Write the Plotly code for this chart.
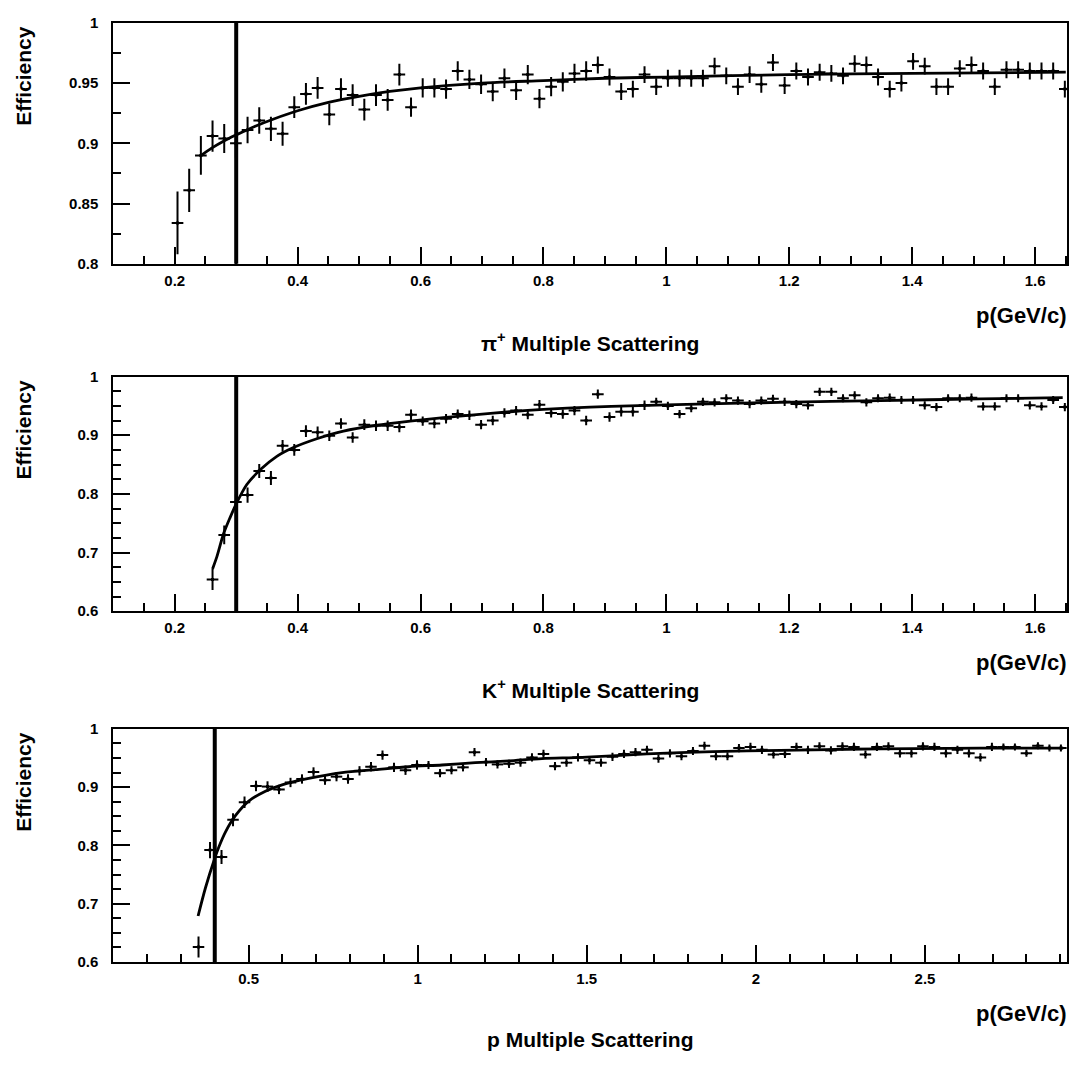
import plotly.graph_objects as go

# ---------------- data ----------------
# pi+ panel: bin centres start at 0.2045 GeV/c, bin width 0.019 GeV/c
pi_first_bin = 0.2045
pi_bin_width = 0.019
eff_pi = [0.834, 0.861, 0.890, 0.906, 0.904, 0.900, 0.911, 0.919, 0.912, 0.908,
          0.930, 0.941, 0.946, 0.924, 0.945, 0.940, 0.928, 0.940, 0.936, 0.957,
          0.930, 0.946, 0.946, 0.945, 0.960, 0.953, 0.949, 0.943, 0.954, 0.944,
          0.957, 0.937, 0.947, 0.951, 0.958, 0.960, 0.965, 0.955, 0.943, 0.945,
          0.957, 0.947, 0.954, 0.954, 0.954, 0.954, 0.964, 0.956, 0.947, 0.957,
          0.949, 0.967, 0.948, 0.960, 0.955, 0.959, 0.958, 0.956, 0.966, 0.965,
          0.955, 0.945, 0.950, 0.968, 0.964, 0.947, 0.947, 0.962, 0.965, 0.960,
          0.947, 0.961, 0.961, 0.960, 0.960, 0.960, 0.945]
err_pi = [0.026, 0.018, 0.016, 0.013, 0.012, 0.012, 0.011, 0.011, 0.010, 0.010,
          0.009, 0.009, 0.009, 0.009, 0.009, 0.009, 0.009, 0.009, 0.009, 0.009,
          0.008, 0.008, 0.008, 0.008, 0.008, 0.008, 0.008, 0.008, 0.008, 0.008,
          0.008, 0.008, 0.008, 0.008, 0.008, 0.008, 0.007, 0.007, 0.007, 0.007,
          0.007, 0.007, 0.007, 0.007, 0.007, 0.007, 0.007, 0.007, 0.007, 0.007,
          0.007, 0.007, 0.007, 0.007, 0.007, 0.007, 0.007, 0.007, 0.007, 0.007,
          0.007, 0.007, 0.007, 0.007, 0.007, 0.007, 0.007, 0.007, 0.007, 0.007,
          0.007, 0.007, 0.007, 0.007, 0.007, 0.007, 0.007]
fit_pi_p = [0.243, 0.26, 0.28, 0.30, 0.33, 0.36, 0.40, 0.45, 0.50, 0.55, 0.60,
            0.70, 0.80, 0.90, 1.0, 1.2, 1.4, 1.65]
fit_pi_eff = [0.890, 0.896, 0.902, 0.907, 0.914, 0.920, 0.927, 0.934, 0.939, 0.943,
              0.946, 0.950, 0.952, 0.954, 0.955, 0.957, 0.958, 0.959]

# K+ panel: same binning, first filled bin at 0.2615 GeV/c
k_first_bin = 0.2615
k_bin_width = 0.019
eff_k = [0.654, 0.730, 0.786, 0.798, 0.839, 0.827, 0.882, 0.875, 0.907, 0.905,
         0.899, 0.920, 0.896, 0.918, 0.916, 0.916, 0.914, 0.935, 0.924, 0.920,
         0.928, 0.936, 0.934, 0.918, 0.925, 0.938, 0.942, 0.935, 0.952, 0.938,
         0.936, 0.942, 0.925, 0.970, 0.931, 0.940, 0.940, 0.951, 0.957, 0.950,
         0.936, 0.946, 0.957, 0.956, 0.963, 0.959, 0.953, 0.959, 0.962, 0.957,
         0.953, 0.951, 0.974, 0.974, 0.963, 0.968, 0.956, 0.963, 0.964, 0.960,
         0.960, 0.951, 0.948, 0.963, 0.963, 0.964, 0.949, 0.949, 0.963, 0.963,
         0.951, 0.949, 0.960, 0.948]
err_k = [0.018, 0.016, 0.014, 0.013, 0.012, 0.012, 0.010, 0.010, 0.010, 0.010,
         0.009, 0.009, 0.009, 0.009, 0.009, 0.009, 0.009, 0.009, 0.008, 0.008,
         0.008, 0.008, 0.008, 0.008, 0.008, 0.008, 0.008, 0.008, 0.008, 0.008,
         0.008, 0.008, 0.008, 0.008, 0.008, 0.008, 0.008, 0.008, 0.007, 0.007,
         0.007, 0.007, 0.007, 0.007, 0.007, 0.007, 0.007, 0.007, 0.007, 0.007,
         0.007, 0.007, 0.007, 0.007, 0.007, 0.007, 0.007, 0.007, 0.007, 0.007,
         0.007, 0.007, 0.007, 0.007, 0.007, 0.007, 0.007, 0.007, 0.007, 0.007,
         0.007, 0.007, 0.007, 0.007]
fit_k_p = [0.2615, 0.2686, 0.2794, 0.2902, 0.30, 0.3173, 0.339, 0.3661, 0.3932,
           0.4312, 0.4745, 0.5287, 0.5829, 0.6371, 0.6913, 0.7455, 0.80, 0.876,
           0.94, 1.05, 1.185, 1.348, 1.51, 1.645]
fit_k_eff = [0.672, 0.693, 0.732, 0.760, 0.783, 0.816, 0.841, 0.864, 0.879, 0.894,
             0.907, 0.917, 0.924, 0.930, 0.935, 0.940, 0.944, 0.948, 0.950, 0.953,
             0.956, 0.959, 0.962, 0.964]

# p panel: bin centres start at 0.352 GeV/c, bin width 0.034 GeV/c
p_first_bin = 0.352
p_bin_width = 0.034
eff_p = [0.626, 0.792, 0.780, 0.844, 0.874, 0.902, 0.901, 0.896, 0.908, 0.914,
         0.926, 0.912, 0.918, 0.914, 0.928, 0.935, 0.955, 0.934, 0.929, 0.938,
         0.938, 0.924, 0.929, 0.934, 0.960, 0.943, 0.939, 0.940, 0.942, 0.951,
         0.957, 0.936, 0.942, 0.951, 0.946, 0.942, 0.952, 0.957, 0.960, 0.964,
         0.949, 0.958, 0.953, 0.962, 0.971, 0.953, 0.953, 0.967, 0.969, 0.964,
         0.956, 0.957, 0.969, 0.964, 0.970, 0.963, 0.970, 0.969, 0.956, 0.969,
         0.970, 0.958, 0.958, 0.970, 0.969, 0.958, 0.964, 0.958, 0.951, 0.969,
         0.969, 0.969, 0.958, 0.971, 0.967, 0.967]
err_p = [0.018, 0.014, 0.012, 0.011, 0.010, 0.009, 0.009, 0.008, 0.008, 0.008,
         0.008, 0.008, 0.008, 0.008, 0.008, 0.008, 0.008, 0.008, 0.008, 0.008,
         0.007, 0.007, 0.007, 0.007, 0.007, 0.007, 0.007, 0.007, 0.007, 0.007,
         0.007, 0.007, 0.007, 0.007, 0.007, 0.007, 0.007, 0.007, 0.007, 0.007,
         0.007, 0.007, 0.007, 0.007, 0.007, 0.007, 0.007, 0.007, 0.007, 0.007,
         0.007, 0.007, 0.007, 0.007, 0.007, 0.007, 0.007, 0.007, 0.007, 0.007,
         0.007, 0.007, 0.007, 0.007, 0.007, 0.007, 0.007, 0.007, 0.007, 0.007,
         0.006, 0.006, 0.006, 0.006, 0.006, 0.006]
fit_p_p = [0.3507, 0.3724, 0.40, 0.4118, 0.4315, 0.4611, 0.5005, 0.5498, 0.599,
           0.6778, 0.7764, 0.8749, 0.9734, 1.0719, 1.1704, 1.2689, 1.3675, 1.4866,
           1.6776, 1.8746, 2.0716, 2.2686, 2.4657, 2.6627, 2.909]
fit_p_eff = [0.679, 0.727, 0.778, 0.797, 0.823, 0.851, 0.876, 0.893, 0.904, 0.915,
             0.925, 0.930, 0.935, 0.938, 0.942, 0.945, 0.949, 0.951, 0.957, 0.961,
             0.963, 0.965, 0.966, 0.967, 0.967]

cuts = [0.3, 0.3, 0.4]
titles = ["π<sup>+</sup> Multiple Scattering", "K<sup>+</sup> Multiple Scattering",
          "p Multiple Scattering"]
x_ranges = [[0.1, 1.652], [0.1, 1.652], [0.1, 2.92]]
y_ranges = [[0.8, 1.0], [0.6, 1.0], [0.6, 1.0]]
x_dticks = [0.2, 0.2, 0.5]
x_minor = [0.05, 0.05, 0.1]
y_dticks = [0.05, 0.1, 0.1]
y_minor = [0.025, 0.025, 0.025]

# ---------------- layout geometry (pixels) ----------------
W, H = 1073, 1066
LEFT, RIGHT = 113.3, 1067
PANELS = [(14, 259), (373.5, 612), (731.5, 968.5)]   # top, bottom

FONT = "Liberation Sans"


def bin_centres(first, width, n):
    return [round(first + width * i, 4) for i in range(n)]


series = [
    (bin_centres(pi_first_bin, pi_bin_width, len(eff_pi)), eff_pi, err_pi, pi_bin_width / 2,
     fit_pi_p, fit_pi_eff),
    (bin_centres(k_first_bin, k_bin_width, len(eff_k)), eff_k, err_k, k_bin_width / 2,
     fit_k_p, fit_k_eff),
    (bin_centres(p_first_bin, p_bin_width, len(eff_p)), eff_p, err_p, p_bin_width / 2,
     fit_p_p, fit_p_eff),
]

fig = go.Figure()
annotations = []
shapes = []

for i, (xs, ys, es, half, fx, fy) in enumerate(series):
    sfx = "" if i == 0 else str(i + 1)
    xa, ya = "x" + sfx, "y" + sfx
    top, bot = PANELS[i]

    fig.add_trace(go.Scatter(
        x=xs, y=ys, mode="markers", xaxis=xa, yaxis=ya,
        marker=dict(color="black", size=3, symbol="square"),
        error_x=dict(type="constant", value=half, width=0, thickness=2, color="black"),
        error_y=dict(type="data", array=es, width=0, thickness=2, color="black"),
        showlegend=False, hoverinfo="x+y", cliponaxis=True,
    ))
    fig.add_trace(go.Scatter(
        x=fx, y=fy, mode="lines", xaxis=xa, yaxis=ya,
        line=dict(color="black", width=2.8, shape="spline", smoothing=0.8),
        showlegend=False, hoverinfo="skip",
    ))

    common_tick = dict(
        showline=True, linecolor="black", linewidth=2, mirror=True,
        ticks="inside", tickcolor="black", tickwidth=2, ticklen=17,
        showgrid=False, zeroline=False,
        tickfont=dict(family=FONT, size=15, color="black", weight="bold"),
    )
    fig.layout["xaxis" + sfx] = dict(
        domain=[LEFT / W, RIGHT / W], anchor=ya, range=x_ranges[i],
        tick0=0, dtick=x_dticks[i],
        minor=dict(dtick=x_minor[i], tick0=0, ticks="inside", ticklen=8,
                   tickcolor="black", tickwidth=2, showgrid=False),
        ticklabelstandoff=2,
        **common_tick,
    )
    fig.layout["yaxis" + sfx] = dict(
        domain=[1 - bot / H, 1 - top / H], anchor=xa, range=y_ranges[i],
        tick0=0, dtick=y_dticks[i],
        minor=dict(dtick=y_minor[i], tick0=0, ticks="inside", ticklen=8,
                   tickcolor="black", tickwidth=2, showgrid=False),
        ticklabelstandoff=10,
        **common_tick,
    )

    shapes.append(dict(type="line", xref=xa, yref=ya + " domain",
                       x0=cuts[i], x1=cuts[i], y0=0, y1=1,
                       line=dict(color="black", width=4)))

    annotations.append(dict(
        text="<b>Efficiency</b>", textangle=-90, showarrow=False,
        xref="paper", yref="paper", x=24 / W, y=1 - (top + 1) / H,
        xanchor="center", yanchor="top",
        font=dict(family=FONT, size=21, color="black"),
    ))
    annotations.append(dict(
        text="<b>p(GeV/c)</b>", showarrow=False,
        xref="paper", yref="paper", x=(RIGHT + 1) / W, y=1 - (bot + 52) / H,
        xanchor="right", yanchor="middle",
        font=dict(family=FONT, size=22, color="black"),
    ))
    annotations.append(dict(
        text="<b>" + titles[i] + "</b>", showarrow=False,
        xref="paper", yref="paper", x=(LEFT + RIGHT) / 2 / W, y=1 - (bot + 79) / H,
        xanchor="center", yanchor="middle",
        font=dict(family=FONT, size=21, color="black"),
    ))

fig.update_layout(
    width=W, height=H,
    margin=dict(l=0, r=0, t=0, b=0),
    paper_bgcolor="white", plot_bgcolor="white",
    annotations=annotations, shapes=shapes,
    showlegend=False,
)

fig.write_html("out.html")
